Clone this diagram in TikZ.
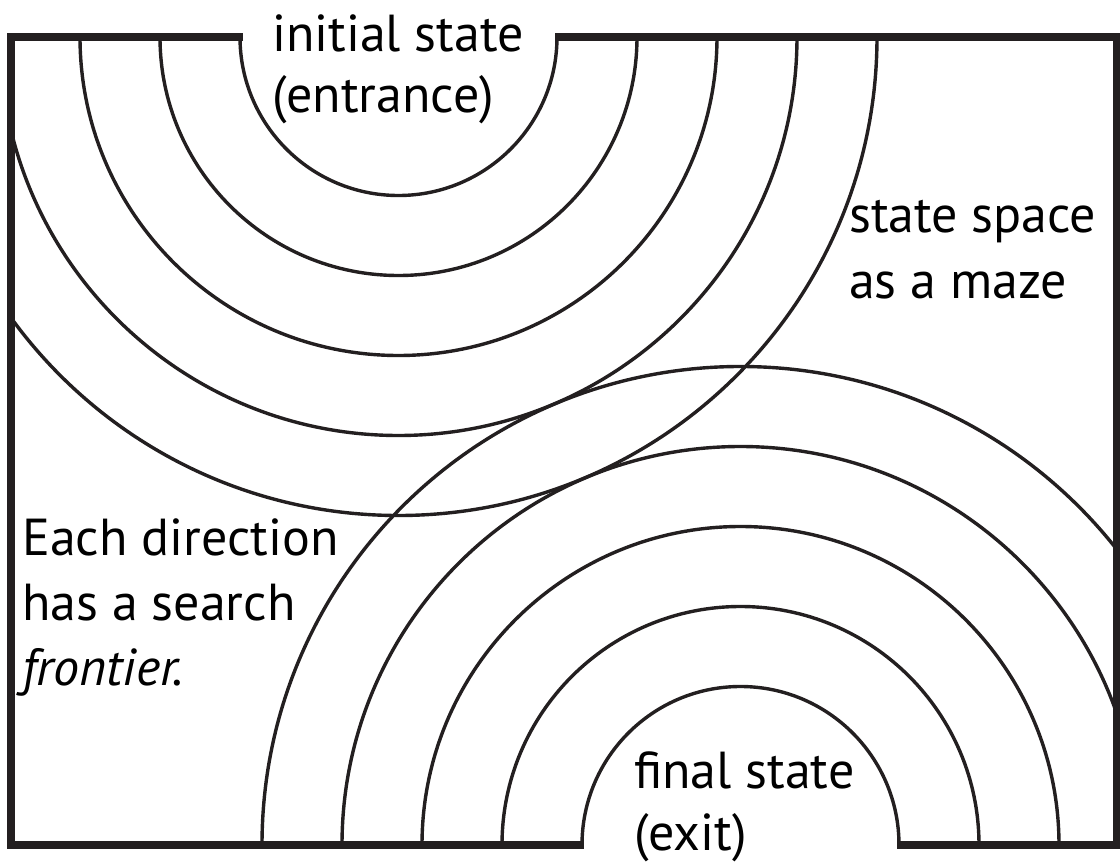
\documentclass[tikz,border=0pt]{standalone}
\usepackage{fontspec}
\setmainfont{PT Sans}
\definecolor{ink}{RGB}{35,31,32}
\begin{document}
\begin{tikzpicture}[x=1pt,y=-1pt,
  frame/.style={draw=ink,line width=8pt,line join=miter,line cap=butt},
  wall/.style={draw=ink,line width=3.4pt},
  lbl/.style={anchor=base west,inner sep=0pt,font=\fontsize{52}{60}\selectfont,text=black}]
\useasboundingbox (0,0) rectangle (1120,864);
% arcs
\begin{scope}
  \clip (11,37) rectangle (1117,845);
  \foreach \r in {158.5,238.5,318.5,398.5,478.5}{
    \draw[wall] (398.5,37) circle[radius=\r pt];
    \draw[wall] (740.5,845) circle[radius=\r pt];
  }
\end{scope}
% frame
\coordinate (tl) at (11,37);
\coordinate (tr) at (1117,37);
\coordinate (bl) at (11,845);
\coordinate (br) at (1117,845);
\coordinate (ga) at (243,37);
\coordinate (gb) at (555,37);
\coordinate (gc) at (584,845);
\coordinate (gd) at (897,845);
\draw[frame] (ga) -- (tl) -- (bl) -- (gc);
\draw[frame] (gd) -- (br) -- (tr) -- (gb);
% labels
\node[lbl] (i1) at (272,52) {initial state};
\node[lbl] (i2) at (272,113) {(entrance)};
\node[lbl] (s1) at (849,233) {state space};
\node[lbl] (s2) at (849,298) {as a maze};
\node[lbl] (e1) at (22,555) {Each direction};
\node[lbl] (e2) at (22,620) {has a search};
\node[lbl] (e3) at (22,685) {\itshape frontier.};
\node[lbl] (f1) at (634,788) {final state};
\node[lbl] (f2) at (634,850) {(exit)};
\end{tikzpicture}
\end{document}
